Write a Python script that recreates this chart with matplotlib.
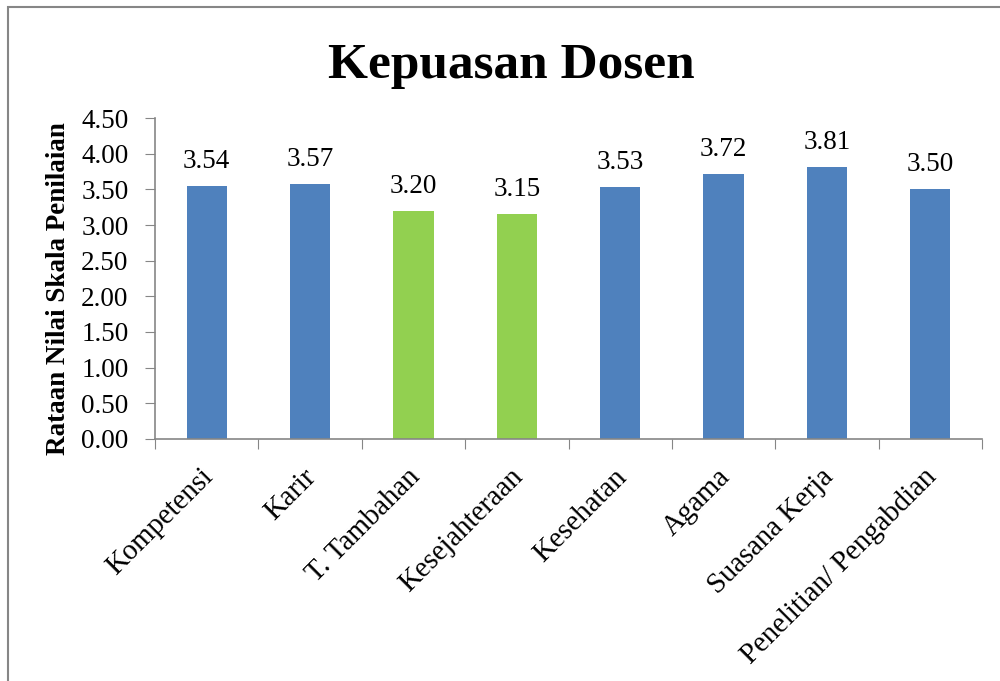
import matplotlib
matplotlib.use("Agg")
import matplotlib.pyplot as plt
from matplotlib.patches import Rectangle
from matplotlib.transforms import ScaledTranslation

categories = ["Kompetensi", "Karir", "T. Tambahan", "Kesejahteraan", "Kesehatan",
              "Agama", "Suasana Kerja", "Penelitian/ Pengabdian"]
scores = [3.54, 3.57, 3.20, 3.15, 3.53, 3.72, 3.81, 3.50]
low_items = ["T. Tambahan", "Kesejahteraan"]
yticks = [0.0, 0.5, 1.0, 1.5, 2.0, 2.5, 3.0, 3.5, 4.0, 4.5]

BLUE = "#4F81BD"
GREEN = "#92D050"
GRID = "#868686"

plt.rcParams["font.family"] = ["Liberation Serif", "DejaVu Serif"]

fig = plt.figure(figsize=(10, 6.81), dpi=100)
ax = fig.add_axes([0.155, 0.3554, 0.827, 0.4713])

colors = [GREEN if c in low_items else BLUE for c in categories]
x = list(range(len(categories)))
ax.bar(x, scores, width=0.39, color=colors, zorder=2)

for xi, v in zip(x, scores):
    ax.text(xi, v + 0.17, f"{v:.2f}", ha="center", va="bottom", fontsize=19.5)

ax.set_xlim(-0.5, len(categories) - 0.5)
ax.set_ylim(0, 4.5)
ax.set_yticks(yticks)
ax.set_yticklabels([f"{t:.2f}" for t in yticks], fontsize=19.5)

# ticks sit on category boundaries, labels at centers
ax.set_xticks([i - 0.5 for i in range(len(categories) + 1)])
ax.set_xticklabels([])
ax.set_xticks(x, minor=True)
ax.set_xticklabels(categories, minor=True, rotation=45, ha="right",
                   rotation_mode="anchor", fontsize=20.7)
ax.tick_params(axis="x", which="minor", length=0, pad=18)
ax.tick_params(axis="x", which="major", length=7, color=GRID, direction="out")
ax.tick_params(axis="y", length=7, color=GRID, direction="out", pad=12)
shift = ScaledTranslation(-0.07, 0, fig.dpi_scale_trans)
for lbl in ax.get_xticklabels(minor=True):
    lbl.set_transform(lbl.get_transform() + shift)

for side in ["top", "right"]:
    ax.spines[side].set_visible(False)
for side in ["left", "bottom"]:
    ax.spines[side].set_color(GRID)
    ax.spines[side].set_linewidth(1.2)

ax.set_ylabel("Rataan Nilai Skala Penilaian", fontsize=19.5, fontweight="bold")
ax.yaxis.set_label_coords(-0.102, 0.467)
fig.text(0.511, 1 - 78 / 681, "Kepuasan Dosen", ha="center", va="baseline",
         fontsize=37, fontweight="bold")

# chart-area border (only top and left are inside the picture)
fig.patches.append(Rectangle((0.008, -0.05), 1.1, 1.04, transform=fig.transFigure,
                             fill=False, edgecolor="#868686", linewidth=1.5))

fig.savefig("out.png", dpi=100)
